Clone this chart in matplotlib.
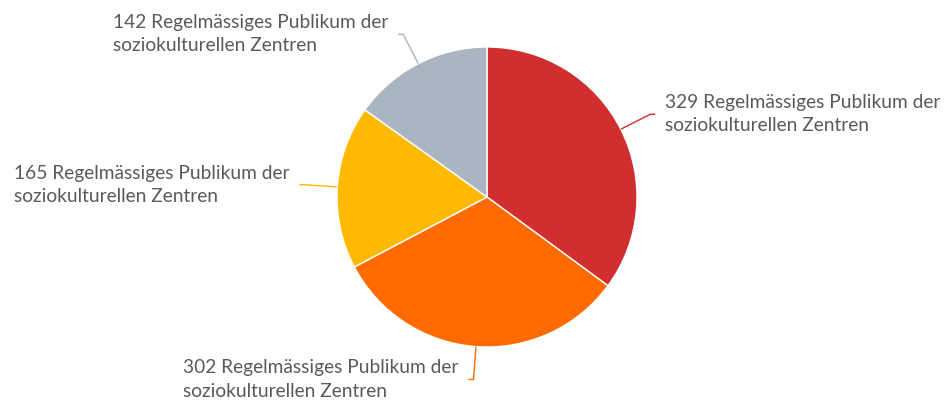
import matplotlib.pyplot as plt
import numpy as np

values = [329, 302, 165, 142]
label_text = "Regelmässiges Publikum der\nsoziokulturellen Zentren"
labels = [f"{v} {label_text}" for v in values]
colours = ["#d12f2f", "#ff6b00", "#ffb900", "#abb5c1"]

W, H = 946, 401
cx, cy, r = 487, H - 197, 150

fig = plt.figure(figsize=(W / 100, H / 100), dpi=100)
ax = fig.add_axes([0, 0, 1, 1])
wedges, _ = ax.pie(
    values,
    colors=colours,
    startangle=90,
    counterclock=False,
    center=(cx, cy),
    radius=r,
    wedgeprops=dict(edgecolor="white", linewidth=1),
)
ax.set_xlim(0, W)
ax.set_ylim(0, H)
ax.set_aspect("equal")
ax.axis("off")

# leader lines: radial stub, then a short horizontal tick, then the label
for w, colour, text in zip(wedges, colours, labels):
    mid = np.deg2rad((w.theta1 + w.theta2) / 2)
    dx, dy = np.cos(mid), np.sin(mid)
    x0, y0 = cx + r * dx, cy + r * dy
    x1, y1 = cx + (r + 33) * dx, cy + (r + 33) * dy
    side = 1 if dx >= 0 else -1
    x2 = x1 + 5 * side
    ax.plot([x0, x1, x2], [y0, y1, y1], color=colour, lw=1, solid_capstyle="butt")
    ax.text(
        x2 + 10 * side,
        y1,
        text,
        ha="left" if side > 0 else "right",
        va="center",
        multialignment="left",
        fontsize=13.8,
        family="Lato",
        color="#5a5a5a",
        linespacing=1.45,
    )

fig.savefig("out.png", dpi=100)
